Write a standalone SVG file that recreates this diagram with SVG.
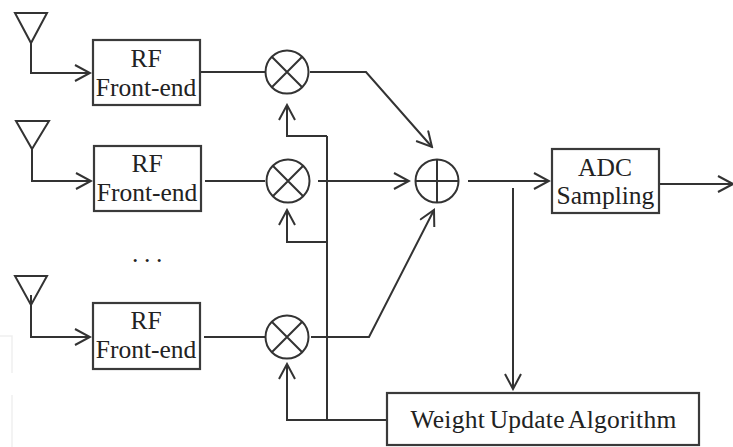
<svg xmlns="http://www.w3.org/2000/svg" width="733" height="447" viewBox="0 0 733 447">
<style>
.l{fill:none;stroke:#333;stroke-width:2}
.b{fill:#fff;stroke:#3a3a3a;stroke-width:2.200}
.w{fill:none;stroke:#efefef;stroke-width:1.5}
text{font-family:"Liberation Serif","Times New Roman",serif;font-size:25.500px;fill:#222;text-anchor:middle}
</style>
<defs>
<marker id="a" markerUnits="userSpaceOnUse" markerWidth="18" markerHeight="20" refX="16" refY="9" orient="auto">
<path d="M1 1 L16 9 L1 17" fill="none" stroke="#333" stroke-width="2"/>
</marker>
</defs>
<rect width="733" height="447" fill="#fff"/>
<g id="artifact"><path class="w" d="M0 336H12V373M12 395V447"/></g>
<g id="connectors">
<path class="l" d="M31 43V73H90" marker-end="url(#a)"/>
<path class="l" d="M32 149V181H91" marker-end="url(#a)"/>
<path class="l" d="M31 295V337H90" marker-end="url(#a)"/>
<path class="l" d="M200 72H265"/>
<path class="l" d="M205 181H265"/>
<path class="l" d="M204 337H265"/>
<path class="l" d="M310 72H366L432 147" marker-end="url(#a)"/>
<path class="l" d="M318 181H409" marker-end="url(#a)"/>
<path class="l" d="M311 337H369L434 210" marker-end="url(#a)"/>
<path class="l" d="M327 136V420"/>
<path class="l" d="M327 136H287V105" marker-end="url(#a)"/>
<path class="l" d="M327 242H287V210" marker-end="url(#a)"/>
<path class="l" d="M387 420H287V364" marker-end="url(#a)"/>
<path class="l" d="M468 181H549" marker-end="url(#a)"/>
<path class="l" d="M513 188V389" marker-end="url(#a)"/>
<path class="l" d="M659 184H733" marker-end="url(#a)"/>
</g>
<g id="antenna1"><path class="l" d="M15 13H47L31 43Z"/></g>
<g id="antenna2"><path class="l" d="M16 121H49L32 149Z"/></g>
<g id="antenna3"><path class="l" d="M15 276H47L31 305Z"/></g>
<g id="rf1"><rect class="b" x="93" y="40" width="107" height="65"/><text x="146" y="67">RF</text><text x="146" y="96">Front-end</text></g>
<g id="rf2"><rect class="b" x="94" y="146" width="107" height="65"/><text x="147" y="172">RF</text><text x="147" y="201">Front-end</text></g>
<g id="rf3"><rect class="b" x="93" y="303" width="107" height="66"/><text x="146" y="329">RF</text><text x="146" y="358">Front-end</text></g>
<g id="dots"><text x="150" y="262" letter-spacing="5.600">...</text></g>
<g id="mixer1"><circle class="l" cx="287" cy="72" r="21.500"/><path class="l" d="M271.800 56.800L302.200 87.200M302.200 56.800L271.800 87.200"/></g>
<g id="mixer2"><circle class="l" cx="288" cy="181" r="21.500"/><path class="l" d="M272.800 165.800L303.200 196.200M303.200 165.800L272.800 196.200"/></g>
<g id="mixer3"><circle class="l" cx="287" cy="337" r="21.500"/><path class="l" d="M271.800 321.800L302.200 352.200M302.200 321.800L271.800 352.200"/></g>
<g id="sum"><circle class="l" cx="437" cy="181" r="21.500"/><path class="l" d="M415.500 181H458.500M437 159.500V202.500"/></g>
<g id="adc"><rect class="b" x="552" y="149" width="107" height="64"/><text x="605" y="176">ADC</text><text x="605.500" y="204">Sampling</text></g>
<g id="weight"><rect class="b" x="387" y="393" width="312" height="52"/><text x="543.500" y="428" word-spacing="-2" letter-spacing="0.250">Weight Update Algorithm</text></g>
</svg>
